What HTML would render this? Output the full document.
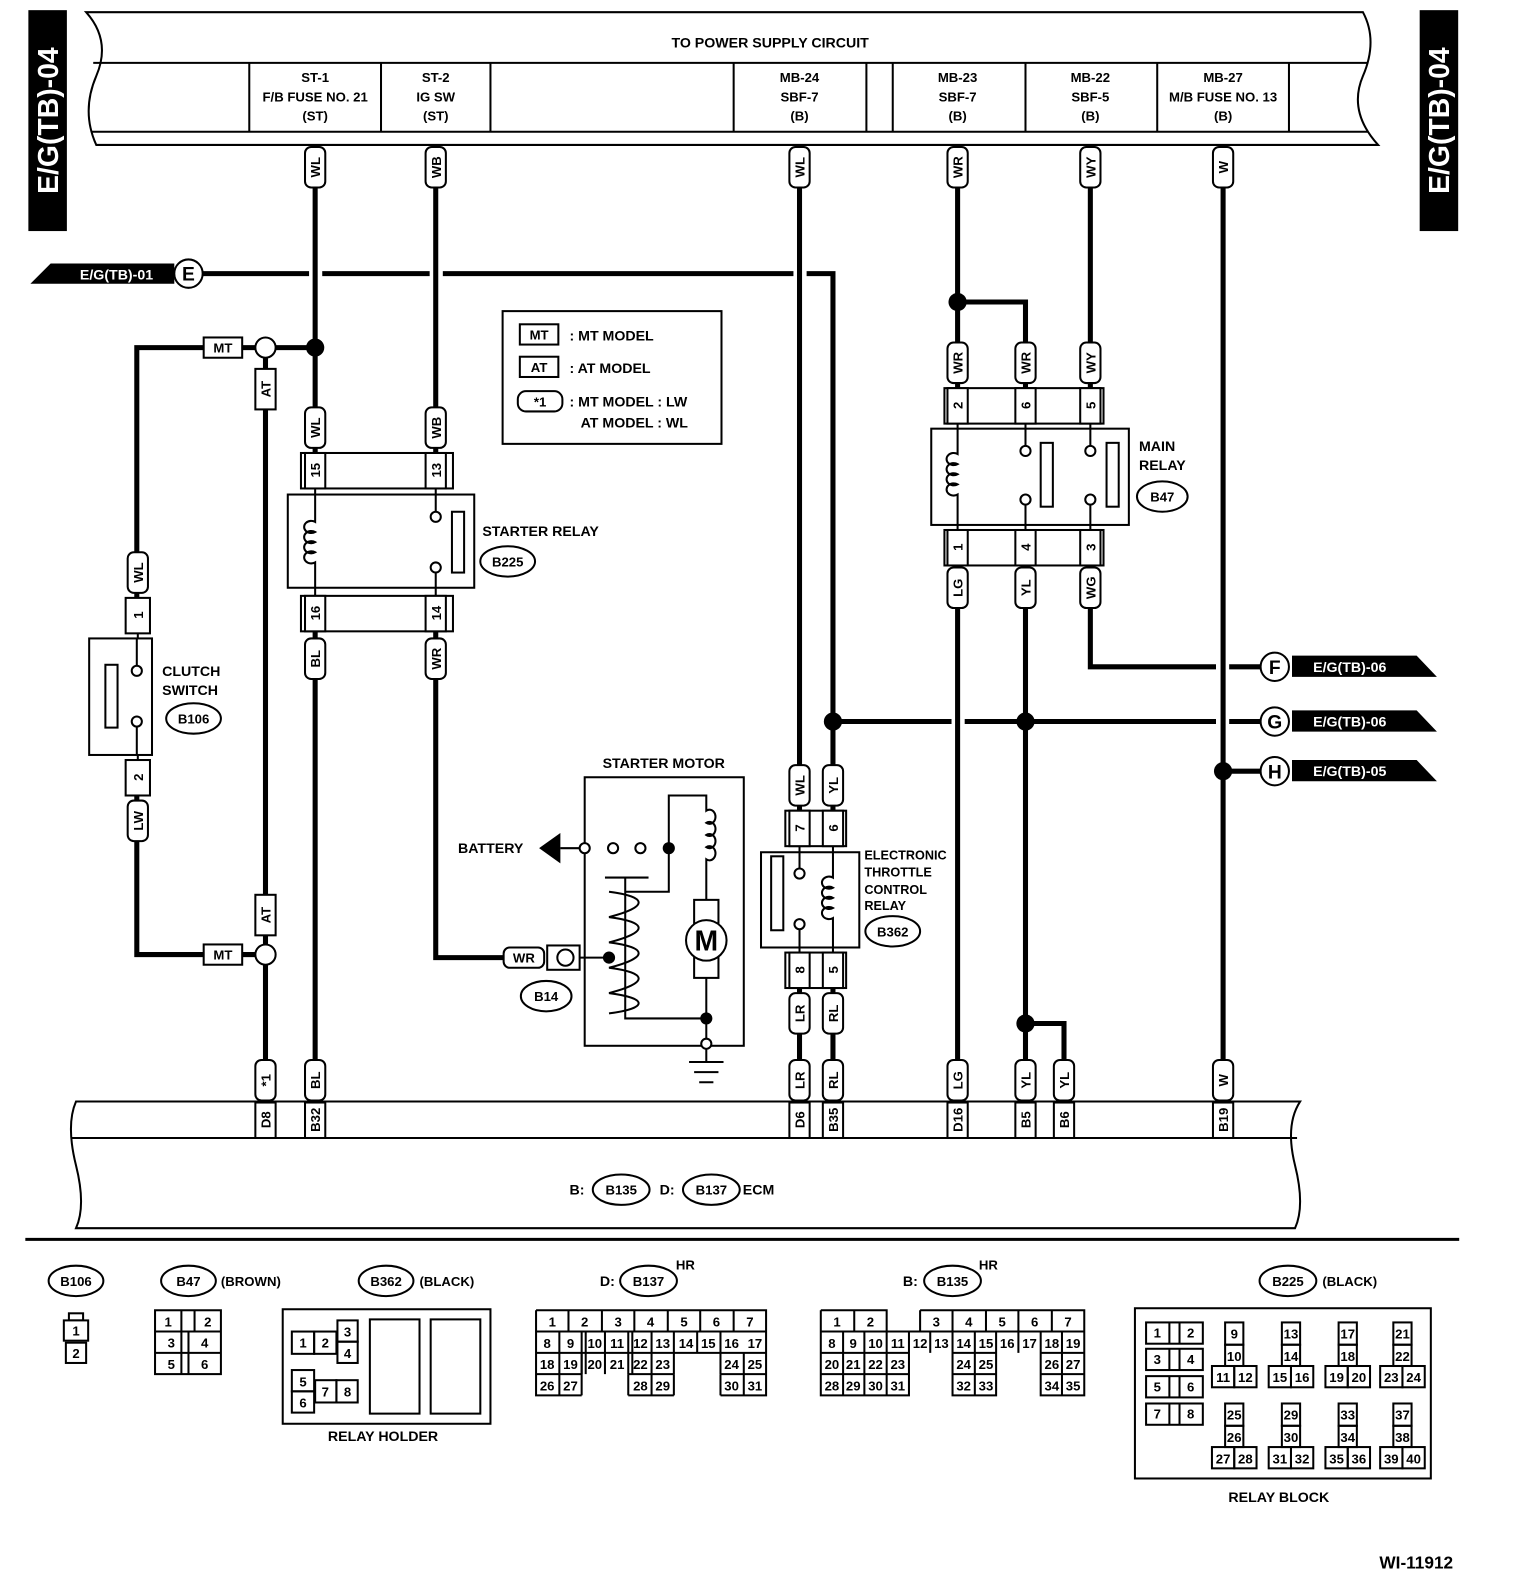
<!DOCTYPE html>
<html><head><meta charset="utf-8"><style>
html,body{margin:0;padding:0;background:#fff}
svg{display:block}
text{font-family:"Liberation Sans",sans-serif;font-weight:bold;fill:#000}
</style></head><body>
<svg width="1520" height="1592" viewBox="0 0 1500 1571" xmlns="http://www.w3.org/2000/svg">
<defs>
<style>
.w{stroke:#000;stroke-width:5;fill:none}
.t{stroke:#000;stroke-width:2;fill:none}
.b{stroke:#000;stroke-width:2;fill:#fff}
.s{font-size:13px}
.m{font-size:14px}
</style>
</defs>
<!-- side tabs -->
<rect x="28" y="10" width="38" height="218" fill="#000"/>
<text transform="translate(57,119) rotate(-90)" text-anchor="middle" font-size="28" style="fill:#fff">E/G(TB)-04</text>
<rect x="1401" y="10" width="38" height="218" fill="#000"/>
<text transform="translate(1430,119) rotate(-90)" text-anchor="middle" font-size="28" style="fill:#fff">E/G(TB)-04</text>

<!-- top ribbon -->
<path class="t" d="M85 12 H1345 Q1360 40 1345 75 Q1330 110 1360 143 H95 Q80 110 95 75 Q110 40 85 12 Z" stroke-width="2.5"/>
<line class="t" x1="92" y1="62" x2="1350" y2="62"/>
<line class="t" x1="90" y1="130" x2="1350" y2="130"/>
<g class="t">
<line x1="246" y1="62" x2="246" y2="130"/><line x1="376" y1="62" x2="376" y2="130"/>
<line x1="484" y1="62" x2="484" y2="130"/><line x1="724" y1="62" x2="724" y2="130"/>
<line x1="855" y1="62" x2="855" y2="130"/><line x1="881" y1="62" x2="881" y2="130"/>
<line x1="1012" y1="62" x2="1012" y2="130"/><line x1="1142" y1="62" x2="1142" y2="130"/>
<line x1="1272" y1="62" x2="1272" y2="130"/>
</g>
<text x="760" y="47" text-anchor="middle" class="m" font-weight="normal">TO POWER SUPPLY CIRCUIT</text>
<g class="s" text-anchor="middle">
<text x="311" y="81">ST-1</text><text x="311" y="100">F/B FUSE NO. 21</text><text x="311" y="119">(ST)</text>
<text x="430" y="81">ST-2</text><text x="430" y="100">IG SW</text><text x="430" y="119">(ST)</text>
<text x="789" y="81">MB-24</text><text x="789" y="100">SBF-7</text><text x="789" y="119">(B)</text>
<text x="945" y="81">MB-23</text><text x="945" y="100">SBF-7</text><text x="945" y="119">(B)</text>
<text x="1076" y="81">MB-22</text><text x="1076" y="100">SBF-5</text><text x="1076" y="119">(B)</text>
<text x="1207" y="81">MB-27</text><text x="1207" y="100">M/B FUSE NO. 13</text><text x="1207" y="119">(B)</text>
</g>

<!-- wires -->
<g class="w">
<path d="M311 143 V447"/><path d="M311 623 V1088"/>
<path d="M430 143 V447"/><path d="M430 623 V945 H500"/>
<path d="M789 143 V800"/><path d="M789 975 V1088"/>
<path d="M945 143 V383"/><path d="M945 558 V1088"/>
<path d="M945 298 H1012 V383"/>
<path d="M1076 143 V383"/><path d="M1076 558 V658 H1200"/><path d="M1213 658 H1245"/>
<path d="M1207 143 V1088"/>
<path d="M1012 558 V1088"/><path d="M1012 1010 H1050 V1088"/>
<path d="M822 975 V1088"/>
<path d="M200 270 H305 M318 270 H424 M437 270 H783 M796 270 H822 V800"/>
<path d="M822 712 H939 M952 712 H1200 M1213 712 H1245"/>
<path d="M1207 761 H1245"/>
<path d="M311 343 H272 M252 343 H135 V590 M135 785 V942 H252"/>
<path d="M262 353 V932 M262 952 V1088"/>
</g>
<g fill="#000">
<circle cx="311" cy="343" r="9"/><circle cx="945" cy="298" r="9"/>
<circle cx="822" cy="712" r="9"/><circle cx="1012" cy="712" r="9"/>
<circle cx="1207" cy="761" r="9"/><circle cx="1012" cy="1010" r="9"/>
</g>
<circle cx="262" cy="343" r="10" class="b"/><circle cx="262" cy="942" r="10" class="b"/>

<!-- E pennant -->
<path d="M30 280 L50 260 H172 V280 Z" fill="#000"/>
<text x="115" y="276" text-anchor="middle" class="m" font-weight="normal" style="fill:#fff">E/G(TB)-01</text>
<circle cx="186" cy="270" r="14" class="b" stroke-width="2.5"/><text x="186" y="277" text-anchor="middle" font-size="19">E</text>
<!-- F G H -->
<g>
<circle cx="1258" cy="658" r="14" class="b" stroke-width="2.5"/><text x="1258" y="665" text-anchor="middle" font-size="19">F</text>
<path d="M1275 647 H1398 L1418 668 H1275 Z" fill="#000"/><text x="1332" y="663" text-anchor="middle" class="m" font-weight="normal" style="fill:#fff">E/G(TB)-06</text>
<circle cx="1258" cy="712" r="14" class="b" stroke-width="2.5"/><text x="1258" y="719" text-anchor="middle" font-size="19">G</text>
<path d="M1275 701 H1398 L1418 722 H1275 Z" fill="#000"/><text x="1332" y="717" text-anchor="middle" class="m" font-weight="normal" style="fill:#fff">E/G(TB)-06</text>
<circle cx="1258" cy="761" r="14" class="b" stroke-width="2.5"/><text x="1258" y="768" text-anchor="middle" font-size="19">H</text>
<path d="M1275 750 H1398 L1418 771 H1275 Z" fill="#000"/><text x="1332" y="766" text-anchor="middle" class="m" font-weight="normal" style="fill:#fff">E/G(TB)-05</text>
</g>

<!-- vertical wire labels -->
<g class="s">
<g transform="translate(311,165)"><rect x="-10" y="-20" width="20" height="40" rx="6" class="b"/><text transform="rotate(-90)" text-anchor="middle" y="5">WL</text></g>
<g transform="translate(430,165)"><rect x="-10" y="-20" width="20" height="40" rx="6" class="b"/><text transform="rotate(-90)" text-anchor="middle" y="5">WB</text></g>
<g transform="translate(789,165)"><rect x="-10" y="-20" width="20" height="40" rx="6" class="b"/><text transform="rotate(-90)" text-anchor="middle" y="5">WL</text></g>
<g transform="translate(945,165)"><rect x="-10" y="-20" width="20" height="40" rx="6" class="b"/><text transform="rotate(-90)" text-anchor="middle" y="5">WR</text></g>
<g transform="translate(1076,165)"><rect x="-10" y="-20" width="20" height="40" rx="6" class="b"/><text transform="rotate(-90)" text-anchor="middle" y="5">WY</text></g>
<g transform="translate(1207,165)"><rect x="-10" y="-20" width="20" height="40" rx="6" class="b"/><text transform="rotate(-90)" text-anchor="middle" y="5">W</text></g>
<g transform="translate(262,384)"><rect x="-10" y="-20" width="20" height="40" class="b"/><text transform="rotate(-90)" text-anchor="middle" y="5">AT</text></g>
<g transform="translate(262,903)"><rect x="-10" y="-20" width="20" height="40" class="b"/><text transform="rotate(-90)" text-anchor="middle" y="5">AT</text></g>
<g transform="translate(311,422)"><rect x="-10" y="-20" width="20" height="40" rx="6" class="b"/><text transform="rotate(-90)" text-anchor="middle" y="5">WL</text></g>
<g transform="translate(430,422)"><rect x="-10" y="-20" width="20" height="40" rx="6" class="b"/><text transform="rotate(-90)" text-anchor="middle" y="5">WB</text></g>
<g transform="translate(136,565)"><rect x="-10" y="-20" width="20" height="40" rx="6" class="b"/><text transform="rotate(-90)" text-anchor="middle" y="5">WL</text></g>
<g transform="translate(136,810)"><rect x="-10" y="-20" width="20" height="40" rx="6" class="b"/><text transform="rotate(-90)" text-anchor="middle" y="5">LW</text></g>
<g transform="translate(311,650)"><rect x="-10" y="-20" width="20" height="40" rx="6" class="b"/><text transform="rotate(-90)" text-anchor="middle" y="5">BL</text></g>
<g transform="translate(430,650)"><rect x="-10" y="-20" width="20" height="40" rx="6" class="b"/><text transform="rotate(-90)" text-anchor="middle" y="5">WR</text></g>
<g transform="translate(945,358)"><rect x="-10" y="-20" width="20" height="40" rx="6" class="b"/><text transform="rotate(-90)" text-anchor="middle" y="5">WR</text></g>
<g transform="translate(1012,358)"><rect x="-10" y="-20" width="20" height="40" rx="6" class="b"/><text transform="rotate(-90)" text-anchor="middle" y="5">WR</text></g>
<g transform="translate(1076,358)"><rect x="-10" y="-20" width="20" height="40" rx="6" class="b"/><text transform="rotate(-90)" text-anchor="middle" y="5">WY</text></g>
<g transform="translate(945,580)"><rect x="-10" y="-20" width="20" height="40" rx="6" class="b"/><text transform="rotate(-90)" text-anchor="middle" y="5">LG</text></g>
<g transform="translate(1012,580)"><rect x="-10" y="-20" width="20" height="40" rx="6" class="b"/><text transform="rotate(-90)" text-anchor="middle" y="5">YL</text></g>
<g transform="translate(1076,580)"><rect x="-10" y="-20" width="20" height="40" rx="6" class="b"/><text transform="rotate(-90)" text-anchor="middle" y="5">WG</text></g>
<g transform="translate(789,775)"><rect x="-10" y="-20" width="20" height="40" rx="6" class="b"/><text transform="rotate(-90)" text-anchor="middle" y="5">WL</text></g>
<g transform="translate(822,775)"><rect x="-10" y="-20" width="20" height="40" rx="6" class="b"/><text transform="rotate(-90)" text-anchor="middle" y="5">YL</text></g>
<g transform="translate(789,1000)"><rect x="-10" y="-20" width="20" height="40" rx="6" class="b"/><text transform="rotate(-90)" text-anchor="middle" y="5">LR</text></g>
<g transform="translate(822,1000)"><rect x="-10" y="-20" width="20" height="40" rx="6" class="b"/><text transform="rotate(-90)" text-anchor="middle" y="5">RL</text></g>
<g transform="translate(262,1066)"><rect x="-10" y="-20" width="20" height="40" rx="6" class="b"/><text transform="rotate(-90)" text-anchor="middle" y="5">*1</text></g>
<g transform="translate(311,1066)"><rect x="-10" y="-20" width="20" height="40" rx="6" class="b"/><text transform="rotate(-90)" text-anchor="middle" y="5">BL</text></g>
<g transform="translate(789,1066)"><rect x="-10" y="-20" width="20" height="40" rx="6" class="b"/><text transform="rotate(-90)" text-anchor="middle" y="5">LR</text></g>
<g transform="translate(822,1066)"><rect x="-10" y="-20" width="20" height="40" rx="6" class="b"/><text transform="rotate(-90)" text-anchor="middle" y="5">RL</text></g>
<g transform="translate(945,1066)"><rect x="-10" y="-20" width="20" height="40" rx="6" class="b"/><text transform="rotate(-90)" text-anchor="middle" y="5">LG</text></g>
<g transform="translate(1012,1066)"><rect x="-10" y="-20" width="20" height="40" rx="6" class="b"/><text transform="rotate(-90)" text-anchor="middle" y="5">YL</text></g>
<g transform="translate(1050,1066)"><rect x="-10" y="-20" width="20" height="40" rx="6" class="b"/><text transform="rotate(-90)" text-anchor="middle" y="5">YL</text></g>
<g transform="translate(1207,1066)"><rect x="-10" y="-20" width="20" height="40" rx="6" class="b"/><text transform="rotate(-90)" text-anchor="middle" y="5">W</text></g>
<!-- horizontal labels -->
<rect x="201" y="333" width="38" height="20" class="b"/><text x="220" y="348" text-anchor="middle">MT</text>
<rect x="201" y="932" width="38" height="20" class="b"/><text x="220" y="947" text-anchor="middle">MT</text>
<rect x="497" y="935" width="40" height="20" rx="6" class="b"/><text x="517" y="950" text-anchor="middle">WR</text>
</g>

<!-- legend -->
<rect x="496" y="307" width="216" height="131" class="t"/>
<rect x="513" y="320" width="38" height="20" class="t"/><text x="532" y="335" text-anchor="middle" class="s">MT</text>
<text x="562" y="336" class="m" font-weight="normal">: MT MODEL</text>
<rect x="513" y="352" width="38" height="20" class="t"/><text x="532" y="367" text-anchor="middle" class="s">AT</text>
<text x="562" y="368" class="m" font-weight="normal">: AT MODEL</text>
<rect x="511" y="386" width="44" height="20" rx="8" class="t"/><text x="533" y="401" text-anchor="middle" class="s">*1</text>
<text x="562" y="401" class="m" font-weight="normal">: MT MODEL : LW</text>
<text x="573" y="422" class="m" font-weight="normal">AT MODEL : WL</text>

<!-- clutch switch -->
<rect x="124" y="590" width="24" height="35" class="b"/><text transform="translate(136,607) rotate(-90)" text-anchor="middle" y="5" class="s">1</text>
<rect x="124" y="750" width="24" height="35" class="b"/><text transform="translate(136,767) rotate(-90)" text-anchor="middle" y="5" class="s">2</text>
<line x1="136" y1="625" x2="136" y2="630" class="t"/><line x1="136" y1="745" x2="136" y2="750" class="t"/>
<rect x="88" y="630" width="62" height="115" class="t"/>
<rect x="104" y="656" width="12" height="62" class="t"/>
<circle cx="135" cy="662" r="5" class="b"/><circle cx="135" cy="712" r="5" class="b"/>
<path class="t" d="M135 630 V657 M135 717 V745"/>
<text x="160" y="667" class="m" font-weight="normal">CLUTCH</text><text x="160" y="686" class="m" font-weight="normal">SWITCH</text>
<ellipse cx="191" cy="709" rx="27" ry="15" class="t"/><text x="191" y="714" text-anchor="middle" class="s">B106</text>

<!-- starter relay -->
<rect x="297" y="447" width="150" height="35" class="t"/>
<rect x="301" y="447" width="20" height="35" class="b"/><text transform="translate(311,464) rotate(-90)" text-anchor="middle" y="5" class="s">15</text>
<rect x="420" y="447" width="20" height="35" class="b"/><text transform="translate(430,464) rotate(-90)" text-anchor="middle" y="5" class="s">13</text>
<rect x="284" y="488" width="184" height="92" class="t"/>
<rect x="297" y="588" width="150" height="35" class="t"/>
<rect x="301" y="588" width="20" height="35" class="b"/><text transform="translate(311,605) rotate(-90)" text-anchor="middle" y="5" class="s">16</text>
<rect x="420" y="588" width="20" height="35" class="b"/><text transform="translate(430,605) rotate(-90)" text-anchor="middle" y="5" class="s">14</text>
<path class="t" d="M311 482 V488 M430 482 V488 M311 580 V588 M430 580 V588"/>
<path class="t" d="M311 488 V515 a7 6 0 1 0 0 10 a7 6 0 1 0 0 10 a7 6 0 1 0 0 10 a7 6 0 1 0 0 10 V580"/>
<rect x="446" y="505" width="12" height="60" class="t"/>
<circle cx="430" cy="510" r="5" class="b"/><circle cx="430" cy="560" r="5" class="b"/>
<path class="t" d="M430 488 V505 M430 565 V580"/>
<text x="476" y="529" class="m" font-weight="normal">STARTER RELAY</text>
<ellipse cx="501" cy="554" rx="27" ry="15" class="t"/><text x="501" y="559" text-anchor="middle" class="s">B225</text>

<!-- main relay -->
<rect x="932" y="383" width="157" height="35" class="t"/>
<rect x="935" y="383" width="20" height="35" class="b"/><text transform="translate(945,400) rotate(-90)" text-anchor="middle" y="5" class="s">2</text>
<rect x="1002" y="383" width="20" height="35" class="b"/><text transform="translate(1012,400) rotate(-90)" text-anchor="middle" y="5" class="s">6</text>
<rect x="1066" y="383" width="20" height="35" class="b"/><text transform="translate(1076,400) rotate(-90)" text-anchor="middle" y="5" class="s">5</text>
<rect x="919" y="423" width="195" height="95" class="t"/>
<rect x="932" y="523" width="157" height="35" class="t"/>
<rect x="935" y="523" width="20" height="35" class="b"/><text transform="translate(945,540) rotate(-90)" text-anchor="middle" y="5" class="s">1</text>
<rect x="1002" y="523" width="20" height="35" class="b"/><text transform="translate(1012,540) rotate(-90)" text-anchor="middle" y="5" class="s">4</text>
<rect x="1066" y="523" width="20" height="35" class="b"/><text transform="translate(1076,540) rotate(-90)" text-anchor="middle" y="5" class="s">3</text>
<path class="t" d="M945 418 V423 M1012 418 V423 M1076 418 V423 M945 518 V523 M1012 518 V523 M1076 518 V523"/>
<path class="t" d="M945 423 V448 a7 6 0 1 0 0 10 a7 6 0 1 0 0 10 a7 6 0 1 0 0 10 a7 6 0 1 0 0 10 V518"/>
<circle cx="1012" cy="445" r="5" class="b"/><circle cx="1012" cy="493" r="5" class="b"/>
<circle cx="1076" cy="445" r="5" class="b"/><circle cx="1076" cy="493" r="5" class="b"/>
<path class="t" d="M1012 423 V440 M1012 498 V518 M1076 423 V440 M1076 498 V518"/>
<rect x="1027" y="437" width="12" height="63" class="t"/><rect x="1092" y="437" width="12" height="63" class="t"/>
<text x="1124" y="445" class="m" font-weight="normal">MAIN</text><text x="1124" y="464" class="m" font-weight="normal">RELAY</text>
<ellipse cx="1147" cy="490" rx="25" ry="15" class="t"/><text x="1147" y="495" text-anchor="middle" class="s">B47</text>

<!-- ETC relay -->
<rect x="775" y="800" width="60" height="35" class="t"/>
<rect x="779" y="800" width="20" height="35" class="b"/><text transform="translate(789,817) rotate(-90)" text-anchor="middle" y="5" class="s">7</text>
<rect x="812" y="800" width="20" height="35" class="b"/><text transform="translate(822,817) rotate(-90)" text-anchor="middle" y="5" class="s">6</text>
<rect x="751" y="841" width="97" height="94" class="t"/>
<rect x="775" y="940" width="60" height="35" class="t"/>
<rect x="779" y="940" width="20" height="35" class="b"/><text transform="translate(789,957) rotate(-90)" text-anchor="middle" y="5" class="s">8</text>
<rect x="812" y="940" width="20" height="35" class="b"/><text transform="translate(822,957) rotate(-90)" text-anchor="middle" y="5" class="s">5</text>
<path class="t" d="M789 835 V841 M822 835 V841 M789 935 V940 M822 935 V940"/>
<rect x="761" y="845" width="12" height="73" class="t"/>
<circle cx="789" cy="862" r="5" class="b"/><circle cx="789" cy="912" r="5" class="b"/>
<path class="t" d="M789 841 V857 M789 917 V935"/>
<path class="t" d="M822 841 V866 a7 6 0 1 0 0 10 a7 6 0 1 0 0 10 a7 6 0 1 0 0 10 a7 6 0 1 0 0 10 V935"/>
<g font-size="12.5" font-weight="normal"><text x="853" y="848">ELECTRONIC</text><text x="853" y="865">THROTTLE</text><text x="853" y="882">CONTROL</text><text x="853" y="898">RELAY</text></g>
<ellipse cx="881" cy="919" rx="27" ry="15" class="t"/><text x="881" y="924" text-anchor="middle" class="s">B362</text>

<!-- starter motor -->
<text x="655" y="758" text-anchor="middle" class="m" font-weight="normal">STARTER MOTOR</text>
<rect x="577" y="767" width="157" height="265" class="t"/>
<text x="452" y="842" class="m" font-weight="normal">BATTERY</text>
<path d="M532 837 L553 822 V852 Z" fill="#000"/>
<path class="t" d="M553 837 H573"/>
<circle cx="577" cy="837" r="5" class="b"/><circle cx="605" cy="837" r="5" class="b"/><circle cx="632" cy="837" r="5" class="b"/>
<circle cx="660" cy="837" r="6" fill="#000"/>
<path class="t" d="M660 837 V785 H697 V800 a6 7 0 1 1 0 12 a6 7 0 1 1 0 12 a6 7 0 1 1 0 12 a6 7 0 1 1 0 12 V888"/>
<path class="t" d="M660 837 V880 H617"/>
<rect x="685" y="888" width="24" height="77" class="t"/>
<circle cx="697" cy="928" r="20" class="b"/><text x="697" y="938" text-anchor="middle" font-size="28">M</text>
<path class="t" d="M697 965 V1025"/>
<circle cx="697" cy="1005" r="6" fill="#000"/>
<circle cx="697" cy="1030" r="5" class="b"/>
<path class="t" d="M697 1035 V1048 M680 1048 H714 M685 1058 H709 M690 1068 H704"/>
<path class="t" d="M597 866 H640 M617 866 V1005 H697"/>
<path class="t" d="M601 880 C640 885 640 895 601 905 C640 910 640 920 601 930 C640 935 640 945 601 955 C640 960 640 970 601 980 C640 985 640 995 601 1000"/>
<rect x="540" y="933" width="32" height="24" class="b"/><circle cx="558" cy="945" r="8" class="b"/>
<path class="t" d="M572 945 H601"/><circle cx="601" cy="945" r="6" fill="#000"/>
<ellipse cx="539" cy="983" rx="25" ry="15" class="t"/><text x="539" y="988" text-anchor="middle" class="s">B14</text>

<!-- ECM ribbon -->
<path class="t" stroke-width="2.5" d="M75 1087 H1283 Q1268 1110 1278 1150 Q1288 1190 1278 1212 H75 Q85 1190 75 1150 Q65 1110 75 1087 Z"/>
<line class="t" x1="70" y1="1123" x2="1280" y2="1123"/>
<g class="s">
<rect x="252" y="1088" width="20" height="35" class="b"/><text transform="translate(262,1105) rotate(-90)" text-anchor="middle" y="5">D8</text>
<rect x="301" y="1088" width="20" height="35" class="b"/><text transform="translate(311,1105) rotate(-90)" text-anchor="middle" y="5">B32</text>
<rect x="779" y="1088" width="20" height="35" class="b"/><text transform="translate(789,1105) rotate(-90)" text-anchor="middle" y="5">D6</text>
<rect x="812" y="1088" width="20" height="35" class="b"/><text transform="translate(822,1105) rotate(-90)" text-anchor="middle" y="5">B35</text>
<rect x="935" y="1088" width="20" height="35" class="b"/><text transform="translate(945,1105) rotate(-90)" text-anchor="middle" y="5">D16</text>
<rect x="1002" y="1088" width="20" height="35" class="b"/><text transform="translate(1012,1105) rotate(-90)" text-anchor="middle" y="5">B5</text>
<rect x="1040" y="1088" width="20" height="35" class="b"/><text transform="translate(1050,1105) rotate(-90)" text-anchor="middle" y="5">B6</text>
<rect x="1197" y="1088" width="20" height="35" class="b"/><text transform="translate(1207,1105) rotate(-90)" text-anchor="middle" y="5">B19</text>
</g>
<text x="562" y="1179" class="m">B:</text>
<ellipse cx="613" cy="1174" rx="28" ry="15" class="t"/><text x="613" y="1179" text-anchor="middle" class="s">B135</text>
<text x="651" y="1179" class="m">D:</text>
<ellipse cx="702" cy="1174" rx="28" ry="15" class="t"/><text x="702" y="1179" text-anchor="middle" class="s">B137</text>
<text x="733" y="1179" class="m">ECM</text>

<line x1="25" y1="1223" x2="1440" y2="1223" stroke="#000" stroke-width="3"/>

<!-- bottom connectors -->
<g class="s" font-weight="normal">
<ellipse cx="75" cy="1264" rx="27" ry="15" class="t"/><text x="75" y="1269" text-anchor="middle" font-weight="bold">B106</text>
<rect x="68" y="1296" width="14" height="7" class="t"/>
<rect x="63" y="1303" width="24" height="20" class="b"/><text x="75" y="1318" text-anchor="middle">1</text>
<rect x="65" y="1325" width="20" height="20" class="b"/><text x="75" y="1340" text-anchor="middle">2</text>

<ellipse cx="186" cy="1264" rx="27" ry="15" class="t"/><text x="186" y="1269" text-anchor="middle" font-weight="bold">B47</text>
<text x="218" y="1269" font-weight="bold">(BROWN)</text>
<rect x="153" y="1293" width="65" height="63" class="t"/>
<path class="t" d="M153 1314 H218 M153 1335 H218 M179 1293 V1356 M192 1293 V1314 M186 1314 V1356"/>
<text x="166" y="1309" text-anchor="middle">1</text><text x="205" y="1309" text-anchor="middle">2</text>
<text x="169" y="1330" text-anchor="middle">3</text><text x="202" y="1330" text-anchor="middle">4</text>
<text x="169" y="1351" text-anchor="middle">5</text><text x="202" y="1351" text-anchor="middle">6</text>

<ellipse cx="381" cy="1264" rx="27" ry="15" class="t"/><text x="381" y="1269" text-anchor="middle" font-weight="bold">B362</text>
<text x="414" y="1269" font-weight="bold">(BLACK)</text>
<rect x="279" y="1292" width="205" height="113" class="t"/>
<rect x="288" y="1314" width="22" height="22" class="t"/><text x="299" y="1330" text-anchor="middle">1</text>
<rect x="310" y="1314" width="22" height="22" class="t"/><text x="321" y="1330" text-anchor="middle">2</text>
<rect x="333" y="1303" width="20" height="21" class="t"/><text x="343" y="1319" text-anchor="middle">3</text>
<rect x="333" y="1324" width="20" height="21" class="t"/><text x="343" y="1340" text-anchor="middle">4</text>
<rect x="288" y="1352" width="22" height="21" class="t"/><text x="299" y="1368" text-anchor="middle">5</text>
<rect x="288" y="1373" width="22" height="21" class="t"/><text x="299" y="1389" text-anchor="middle">6</text>
<rect x="311" y="1362" width="21" height="22" class="t"/><text x="321" y="1378" text-anchor="middle">7</text>
<rect x="332" y="1362" width="21" height="22" class="t"/><text x="343" y="1378" text-anchor="middle">8</text>
<rect x="365" y="1302" width="49" height="93" class="t"/><rect x="425" y="1302" width="49" height="93" class="t"/>
<text x="378" y="1422" text-anchor="middle" font-weight="bold" font-size="14">RELAY HOLDER</text>

<!-- B137 -->
<text x="592" y="1269" font-weight="bold" font-size="14">D:</text>
<ellipse cx="640" cy="1264" rx="28" ry="15" class="t"/><text x="640" y="1269" text-anchor="middle" font-weight="bold">B137</text>
<text x="667" y="1253" font-weight="bold">HR</text>
<g transform="translate(529,1293)">
<path class="t" d="M0 0 H227 V84 H205 M0 0 V84 H45 M0 21 H227 M0 42 H227 M0 63 H45 M91 63 H136 M182 63 H227 M91 84 H136 M182 84 H227 M91 63 V84 M136 63 V84 M182 63 V84 M23 42 V84 M45 42 V84 M114 42 V84 M205 42 V84 M159 21 V42 M23 21 V42 M114 21 V42"/>
<path class="t" d="M32 0 V21 M65 0 V21 M97 0 V21 M130 0 V21 M162 0 V21 M195 0 V21"/>
<path class="t" d="M45 21 V63 M49 21 V63 M68 21 V63 M91 21 V63 M95 21 V63 M136 21 V63 M182 21 V63"/>
<text x="16" y="16" text-anchor="middle">1</text><text x="48" y="16" text-anchor="middle">2</text><text x="81" y="16" text-anchor="middle">3</text><text x="113" y="16" text-anchor="middle">4</text><text x="146" y="16" text-anchor="middle">5</text><text x="178" y="16" text-anchor="middle">6</text><text x="211" y="16" text-anchor="middle">7</text>
<text x="11" y="37" text-anchor="middle">8</text><text x="34" y="37" text-anchor="middle">9</text><text x="58" y="37" text-anchor="middle">10</text><text x="80" y="37" text-anchor="middle">11</text><text x="103" y="37" text-anchor="middle">12</text><text x="125" y="37" text-anchor="middle">13</text><text x="148" y="37" text-anchor="middle">14</text><text x="170" y="37" text-anchor="middle">15</text><text x="193" y="37" text-anchor="middle">16</text><text x="216" y="37" text-anchor="middle">17</text>
<text x="11" y="58" text-anchor="middle">18</text><text x="34" y="58" text-anchor="middle">19</text><text x="58" y="58" text-anchor="middle">20</text><text x="80" y="58" text-anchor="middle">21</text><text x="103" y="58" text-anchor="middle">22</text><text x="125" y="58" text-anchor="middle">23</text><text x="193" y="58" text-anchor="middle">24</text><text x="216" y="58" text-anchor="middle">25</text>
<text x="11" y="79" text-anchor="middle">26</text><text x="34" y="79" text-anchor="middle">27</text><text x="103" y="79" text-anchor="middle">28</text><text x="125" y="79" text-anchor="middle">29</text><text x="193" y="79" text-anchor="middle">30</text><text x="216" y="79" text-anchor="middle">31</text>
</g>

<!-- B135 -->
<text x="891" y="1269" font-weight="bold" font-size="14">B:</text>
<ellipse cx="940" cy="1264" rx="28" ry="15" class="t"/><text x="940" y="1269" text-anchor="middle" font-weight="bold">B135</text>
<text x="966" y="1253" font-weight="bold">HR</text>
<g transform="translate(810,1293)">
<path class="t" d="M0 21 V84 H87 V21 M0 0 H65 V21 M0 0 V21 M98 0 H260 V84 H217 V21 M98 0 V21 M0 21 H260 M0 42 H87 M130 42 H173 M217 42 H260 M0 63 H87 M130 63 H173 M217 63 H260 M130 21 V84 H173 V21"/>
<path class="t" d="M33 0 V21 M130 0 V21 M163 0 V21 M195 0 V21 M228 0 V21"/>
<path class="t" d="M22 21 V84 M43 21 V84 M65 21 V84 M108 21 V42 M152 21 V84 M195 21 V42 M238 21 V84"/>
<text x="16" y="16" text-anchor="middle">1</text><text x="49" y="16" text-anchor="middle">2</text><text x="114" y="16" text-anchor="middle">3</text><text x="146" y="16" text-anchor="middle">4</text><text x="179" y="16" text-anchor="middle">5</text><text x="211" y="16" text-anchor="middle">6</text><text x="244" y="16" text-anchor="middle">7</text>
<text x="11" y="37" text-anchor="middle">8</text><text x="32" y="37" text-anchor="middle">9</text><text x="54" y="37" text-anchor="middle">10</text><text x="76" y="37" text-anchor="middle">11</text><text x="98" y="37" text-anchor="middle">12</text><text x="119" y="37" text-anchor="middle">13</text><text x="141" y="37" text-anchor="middle">14</text><text x="163" y="37" text-anchor="middle">15</text><text x="184" y="37" text-anchor="middle">16</text><text x="206" y="37" text-anchor="middle">17</text><text x="228" y="37" text-anchor="middle">18</text><text x="249" y="37" text-anchor="middle">19</text>
<text x="11" y="58" text-anchor="middle">20</text><text x="32" y="58" text-anchor="middle">21</text><text x="54" y="58" text-anchor="middle">22</text><text x="76" y="58" text-anchor="middle">23</text><text x="141" y="58" text-anchor="middle">24</text><text x="163" y="58" text-anchor="middle">25</text><text x="228" y="58" text-anchor="middle">26</text><text x="249" y="58" text-anchor="middle">27</text>
<text x="11" y="79" text-anchor="middle">28</text><text x="32" y="79" text-anchor="middle">29</text><text x="54" y="79" text-anchor="middle">30</text><text x="76" y="79" text-anchor="middle">31</text><text x="141" y="79" text-anchor="middle">32</text><text x="163" y="79" text-anchor="middle">33</text><text x="228" y="79" text-anchor="middle">34</text><text x="249" y="79" text-anchor="middle">35</text>
</g>

<!-- B225 -->
<ellipse cx="1271" cy="1264" rx="28" ry="15" class="t"/><text x="1271" y="1269" text-anchor="middle" font-weight="bold">B225</text>
<text x="1305" y="1269" font-weight="bold">(BLACK)</text>
<rect x="1120" y="1291" width="292" height="168" class="t"/>
<g>
<rect x="1131" y="1305" width="56" height="21" class="t"/><path class="t" d="M1154 1305 V1326 M1164 1305 V1326"/><text x="1142" y="1320" text-anchor="middle">1</text><text x="1175" y="1320" text-anchor="middle">2</text>
<rect x="1131" y="1331" width="56" height="21" class="t"/><path class="t" d="M1154 1331 V1352 M1164 1331 V1352"/><text x="1142" y="1346" text-anchor="middle">3</text><text x="1175" y="1346" text-anchor="middle">4</text>
<rect x="1131" y="1358" width="56" height="21" class="t"/><path class="t" d="M1154 1358 V1379 M1164 1358 V1379"/><text x="1142" y="1373" text-anchor="middle">5</text><text x="1175" y="1373" text-anchor="middle">6</text>
<rect x="1131" y="1385" width="56" height="21" class="t"/><path class="t" d="M1154 1385 V1406 M1164 1385 V1406"/><text x="1142" y="1400" text-anchor="middle">7</text><text x="1175" y="1400" text-anchor="middle">8</text>
</g>
<g transform="translate(1196,1305)">
<rect x="13" y="0" width="18" height="22" class="t"/><rect x="13" y="22" width="18" height="21" class="t"/><rect x="0" y="43" width="22" height="21" class="t"/><rect x="22" y="43" width="22" height="21" class="t"/>
<text x="22" y="16" text-anchor="middle">9</text><text x="22" y="38" text-anchor="middle">10</text><text x="11" y="59" text-anchor="middle">11</text><text x="33" y="59" text-anchor="middle">12</text>
</g>
<g transform="translate(1252,1305)">
<rect x="13" y="0" width="18" height="22" class="t"/><rect x="13" y="22" width="18" height="21" class="t"/><rect x="0" y="43" width="22" height="21" class="t"/><rect x="22" y="43" width="22" height="21" class="t"/>
<text x="22" y="16" text-anchor="middle">13</text><text x="22" y="38" text-anchor="middle">14</text><text x="11" y="59" text-anchor="middle">15</text><text x="33" y="59" text-anchor="middle">16</text>
</g>
<g transform="translate(1308,1305)">
<rect x="13" y="0" width="18" height="22" class="t"/><rect x="13" y="22" width="18" height="21" class="t"/><rect x="0" y="43" width="22" height="21" class="t"/><rect x="22" y="43" width="22" height="21" class="t"/>
<text x="22" y="16" text-anchor="middle">17</text><text x="22" y="38" text-anchor="middle">18</text><text x="11" y="59" text-anchor="middle">19</text><text x="33" y="59" text-anchor="middle">20</text>
</g>
<g transform="translate(1362,1305)">
<rect x="13" y="0" width="18" height="22" class="t"/><rect x="13" y="22" width="18" height="21" class="t"/><rect x="0" y="43" width="22" height="21" class="t"/><rect x="22" y="43" width="22" height="21" class="t"/>
<text x="22" y="16" text-anchor="middle">21</text><text x="22" y="38" text-anchor="middle">22</text><text x="11" y="59" text-anchor="middle">23</text><text x="33" y="59" text-anchor="middle">24</text>
</g>
<g transform="translate(1196,1385)">
<rect x="13" y="0" width="18" height="22" class="t"/><rect x="13" y="22" width="18" height="21" class="t"/><rect x="0" y="43" width="22" height="21" class="t"/><rect x="22" y="43" width="22" height="21" class="t"/>
<text x="22" y="16" text-anchor="middle">25</text><text x="22" y="38" text-anchor="middle">26</text><text x="11" y="59" text-anchor="middle">27</text><text x="33" y="59" text-anchor="middle">28</text>
</g>
<g transform="translate(1252,1385)">
<rect x="13" y="0" width="18" height="22" class="t"/><rect x="13" y="22" width="18" height="21" class="t"/><rect x="0" y="43" width="22" height="21" class="t"/><rect x="22" y="43" width="22" height="21" class="t"/>
<text x="22" y="16" text-anchor="middle">29</text><text x="22" y="38" text-anchor="middle">30</text><text x="11" y="59" text-anchor="middle">31</text><text x="33" y="59" text-anchor="middle">32</text>
</g>
<g transform="translate(1308,1385)">
<rect x="13" y="0" width="18" height="22" class="t"/><rect x="13" y="22" width="18" height="21" class="t"/><rect x="0" y="43" width="22" height="21" class="t"/><rect x="22" y="43" width="22" height="21" class="t"/>
<text x="22" y="16" text-anchor="middle">33</text><text x="22" y="38" text-anchor="middle">34</text><text x="11" y="59" text-anchor="middle">35</text><text x="33" y="59" text-anchor="middle">36</text>
</g>
<g transform="translate(1362,1385)">
<rect x="13" y="0" width="18" height="22" class="t"/><rect x="13" y="22" width="18" height="21" class="t"/><rect x="0" y="43" width="22" height="21" class="t"/><rect x="22" y="43" width="22" height="21" class="t"/>
<text x="22" y="16" text-anchor="middle">37</text><text x="22" y="38" text-anchor="middle">38</text><text x="11" y="59" text-anchor="middle">39</text><text x="33" y="59" text-anchor="middle">40</text>
</g>
<text x="1262" y="1482" text-anchor="middle" font-weight="bold" font-size="14">RELAY BLOCK</text>
</g>
<text x="1434" y="1548" text-anchor="end" font-size="17" font-weight="normal">WI-11912</text>
</svg>
</body></html>
